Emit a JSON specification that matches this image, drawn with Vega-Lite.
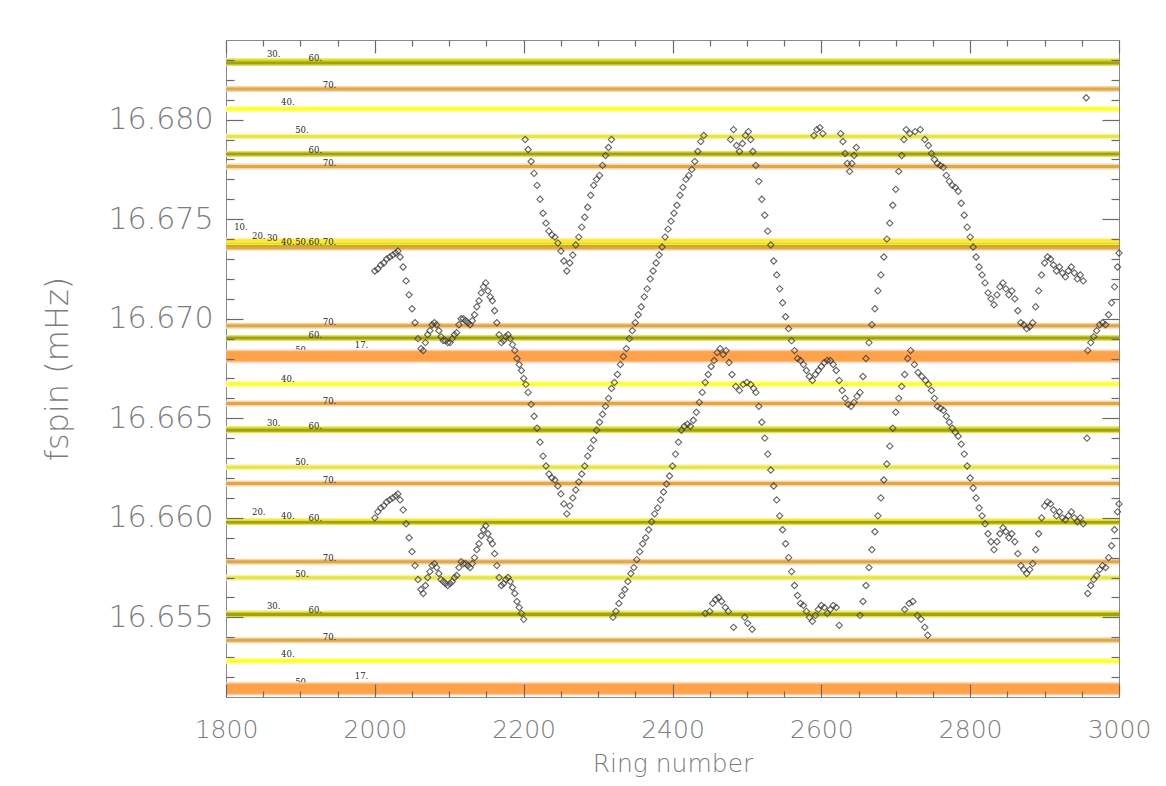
{
  "$schema": "https://vega.github.io/schema/vega-lite/v6.json",
  "width": 893,
  "height": 657,
  "autosize": {"type": "none"},
  "padding": {"left": 226, "top": 40, "right": 47, "bottom": 89},
  "background": "white",
  "config": {
    "view": {"stroke": "#8a8a8a", "strokeWidth": 1},
    "axis": {"grid": false}
  },
  "datasets": {
    "lines": [
      {"n": "30", "f": 16.68295}, {"n": "60", "f": 16.68285}, {"n": "70", "f": 16.68154},
      {"n": "40", "f": 16.68054}, {"n": "50", "f": 16.67915}, {"n": "60", "f": 16.67827},
      {"n": "70", "f": 16.67764}, {"n": "10", "f": 16.67392}, {"n": "20", "f": 16.67381},
      {"n": "30", "f": 16.67371}, {"n": "40", "f": 16.67366}, {"n": "50", "f": 16.67361},
      {"n": "60", "f": 16.67361}, {"n": "70", "f": 16.67356}, {"n": "70", "f": 16.66965},
      {"n": "60", "f": 16.66903}, {"n": "50", "f": 16.66815}, {"n": "17", "f": 16.66811},
      {"n": "40", "f": 16.66672}, {"n": "70", "f": 16.66574}, {"n": "30", "f": 16.66446},
      {"n": "60", "f": 16.6644}, {"n": "50", "f": 16.66254}, {"n": "70", "f": 16.66172},
      {"n": "20", "f": 16.65984}, {"n": "40", "f": 16.65979}, {"n": "60", "f": 16.65978},
      {"n": "70", "f": 16.65779}, {"n": "50", "f": 16.65699}, {"n": "30", "f": 16.6552},
      {"n": "60", "f": 16.65515}, {"n": "70", "f": 16.65385}, {"n": "40", "f": 16.65281},
      {"n": "50", "f": 16.65145}, {"n": "17", "f": 16.65142}
    ],
    "labels": [
      {"t": "30.", "r": 1855, "f": 16.68332}, {"t": "60.", "r": 1911, "f": 16.6831},
      {"t": "70.", "r": 1930, "f": 16.68174}, {"t": "40.", "r": 1874, "f": 16.6809},
      {"t": "50.", "r": 1893, "f": 16.67948}, {"t": "60.", "r": 1911, "f": 16.67848},
      {"t": "70.", "r": 1930, "f": 16.67781}, {"t": "10.", "r": 1811, "f": 16.67463},
      {"t": "20.", "r": 1835, "f": 16.67416}, {"t": "30", "r": 1855, "f": 16.67405},
      {"t": "40.", "r": 1874, "f": 16.67386}, {"t": "50.", "r": 1893, "f": 16.67386},
      {"t": "60.", "r": 1911, "f": 16.67386}, {"t": "70.", "r": 1930, "f": 16.67386},
      {"t": "70.", "r": 1930, "f": 16.66983}, {"t": "60.", "r": 1911, "f": 16.66916},
      {"t": "17.", "r": 1973, "f": 16.6687}, {"t": "50.", "r": 1893, "f": 16.66844},
      {"t": "40.", "r": 1874, "f": 16.66697}, {"t": "70.", "r": 1930, "f": 16.66589},
      {"t": "30.", "r": 1855, "f": 16.66477}, {"t": "60.", "r": 1911, "f": 16.6646},
      {"t": "50.", "r": 1893, "f": 16.66279}, {"t": "70.", "r": 1930, "f": 16.66192},
      {"t": "20.", "r": 1835, "f": 16.66028}, {"t": "40.", "r": 1874, "f": 16.66008},
      {"t": "60.", "r": 1911, "f": 16.66}, {"t": "70.", "r": 1930, "f": 16.65799},
      {"t": "50.", "r": 1893, "f": 16.6572}, {"t": "30.", "r": 1855, "f": 16.65556},
      {"t": "60.", "r": 1911, "f": 16.65536}, {"t": "70.", "r": 1930, "f": 16.65403},
      {"t": "40.", "r": 1874, "f": 16.65318}, {"t": "17.", "r": 1973, "f": 16.65206},
      {"t": "50.", "r": 1893, "f": 16.65175}
    ],
    "pts": [
      {"r":2000,"f":16.6724},{"r":2004,"f":16.6725},{"r":2008,"f":16.6727},{"r":2012,"f":16.6728},{"r":2016,"f":16.673},{"r":2020,"f":16.6731},{"r":2024,"f":16.6732},{"r":2028,"f":16.6733},{"r":2031,"f":16.6734},{"r":2034,"f":16.6731},{"r":2038,"f":16.6726},{"r":2042,"f":16.6719},{"r":2046,"f":16.6712},{"r":2050,"f":16.6705},{"r":2054,"f":16.6698},{"r":2058,"f":16.669},{"r":2062,"f":16.6685},{"r":2065,"f":16.6684},{"r":2068,"f":16.6688},{"r":2071,"f":16.6692},{"r":2074,"f":16.6694},{"r":2077,"f":16.6697},{"r":2080,"f":16.6698},{"r":2083,"f":16.6697},{"r":2086,"f":16.6694},{"r":2089,"f":16.6691},{"r":2092,"f":16.6689},{"r":2095,"f":16.6689},{"r":2098,"f":16.6688},{"r":2101,"f":16.6688},{"r":2104,"f":16.669},{"r":2107,"f":16.6692},{"r":2110,"f":16.6693},{"r":2113,"f":16.6697},{"r":2116,"f":16.67},{"r":2119,"f":16.67},{"r":2122,"f":16.6699},{"r":2125,"f":16.6698},{"r":2128,"f":16.6697},{"r":2131,"f":16.6699},{"r":2134,"f":16.6702},{"r":2137,"f":16.6706},{"r":2140,"f":16.6709},{"r":2143,"f":16.6713},{"r":2146,"f":16.6716},{"r":2149,"f":16.6718},{"r":2152,"f":16.6714},{"r":2155,"f":16.6711},{"r":2158,"f":16.6709},{"r":2161,"f":16.6704},{"r":2164,"f":16.6698},{"r":2167,"f":16.6692},{"r":2170,"f":16.6688},{"r":2173,"f":16.6689},{"r":2176,"f":16.6691},{"r":2179,"f":16.6692},{"r":2182,"f":16.669},{"r":2185,"f":16.6687},{"r":2188,"f":16.6684},{"r":2191,"f":16.668},{"r":2194,"f":16.6677},{"r":2197,"f":16.6674},
      {"r":2000,"f":16.66},{"r":2004,"f":16.6603},{"r":2008,"f":16.6605},{"r":2012,"f":16.6606},{"r":2016,"f":16.6608},{"r":2020,"f":16.6609},{"r":2024,"f":16.661},{"r":2028,"f":16.6611},{"r":2031,"f":16.6612},{"r":2034,"f":16.6609},{"r":2038,"f":16.6604},{"r":2042,"f":16.6597},{"r":2046,"f":16.659},{"r":2050,"f":16.6583},{"r":2054,"f":16.6576},{"r":2058,"f":16.6569},{"r":2062,"f":16.6564},{"r":2065,"f":16.6562},{"r":2068,"f":16.6566},{"r":2071,"f":16.657},{"r":2074,"f":16.6573},{"r":2077,"f":16.6576},{"r":2080,"f":16.6577},{"r":2083,"f":16.6575},{"r":2086,"f":16.6572},{"r":2089,"f":16.6569},{"r":2092,"f":16.6568},{"r":2095,"f":16.6567},{"r":2098,"f":16.6566},{"r":2101,"f":16.6567},{"r":2104,"f":16.6568},{"r":2107,"f":16.657},{"r":2110,"f":16.6571},{"r":2113,"f":16.6575},{"r":2116,"f":16.6578},{"r":2119,"f":16.6577},{"r":2122,"f":16.6577},{"r":2125,"f":16.6576},{"r":2128,"f":16.6575},{"r":2131,"f":16.6577},{"r":2134,"f":16.658},{"r":2137,"f":16.6584},{"r":2140,"f":16.6587},{"r":2143,"f":16.6591},{"r":2146,"f":16.6594},{"r":2149,"f":16.6596},{"r":2152,"f":16.6592},{"r":2155,"f":16.6589},{"r":2158,"f":16.6587},{"r":2161,"f":16.6582},{"r":2164,"f":16.6576},{"r":2167,"f":16.657},{"r":2170,"f":16.6566},{"r":2173,"f":16.6567},{"r":2176,"f":16.6569},{"r":2179,"f":16.657},{"r":2182,"f":16.6568},{"r":2185,"f":16.6565},{"r":2188,"f":16.6562},{"r":2191,"f":16.6558},{"r":2194,"f":16.6555},{"r":2197,"f":16.6552},{"r":2200,"f":16.6549},
      {"r":2200,"f":16.667},{"r":2203,"f":16.6667},{"r":2206,"f":16.6663},{"r":2210,"f":16.6657},{"r":2214,"f":16.6651},{"r":2218,"f":16.6645},{"r":2222,"f":16.6638},{"r":2226,"f":16.6631},{"r":2230,"f":16.6626},{"r":2234,"f":16.6622},{"r":2238,"f":16.662},{"r":2242,"f":16.6619},{"r":2246,"f":16.6616},{"r":2250,"f":16.6612},{"r":2254,"f":16.6607},{"r":2258,"f":16.6602},
      {"r":2262,"f":16.6606},{"r":2266,"f":16.661},{"r":2270,"f":16.6614},{"r":2274,"f":16.6618},{"r":2278,"f":16.6622},{"r":2282,"f":16.6626},{"r":2286,"f":16.6631},{"r":2290,"f":16.6635},{"r":2294,"f":16.6639},{"r":2298,"f":16.6644},{"r":2302,"f":16.6648},{"r":2306,"f":16.6652},{"r":2310,"f":16.6656},{"r":2314,"f":16.666},{"r":2318,"f":16.6665},{"r":2322,"f":16.6668},{"r":2326,"f":16.6672},{"r":2330,"f":16.6677},{"r":2334,"f":16.6681},{"r":2338,"f":16.6685},{"r":2342,"f":16.669},{"r":2346,"f":16.6694},{"r":2350,"f":16.6698},{"r":2354,"f":16.6702},{"r":2358,"f":16.6706},{"r":2362,"f":16.6711},{"r":2366,"f":16.6715},{"r":2370,"f":16.672},{"r":2374,"f":16.6724},{"r":2378,"f":16.6728},{"r":2382,"f":16.6732},{"r":2386,"f":16.6736},{"r":2390,"f":16.6741},{"r":2394,"f":16.6745},{"r":2398,"f":16.6749},{"r":2402,"f":16.6753},{"r":2406,"f":16.6757},{"r":2410,"f":16.6762},{"r":2414,"f":16.6766},{"r":2418,"f":16.677},{"r":2422,"f":16.6772},{"r":2426,"f":16.6775},{"r":2430,"f":16.6779},{"r":2434,"f":16.6784},{"r":2438,"f":16.6789},{"r":2442,"f":16.6792},
      {"r":2202,"f":16.679},{"r":2206,"f":16.6785},{"r":2210,"f":16.6779},{"r":2214,"f":16.6773},{"r":2218,"f":16.6767},{"r":2222,"f":16.676},{"r":2226,"f":16.6753},{"r":2230,"f":16.6748},{"r":2234,"f":16.6744},{"r":2238,"f":16.6742},{"r":2242,"f":16.6741},{"r":2246,"f":16.6738},{"r":2250,"f":16.6734},{"r":2254,"f":16.6729},{"r":2258,"f":16.6724},{"r":2262,"f":16.6728},{"r":2266,"f":16.6732},{"r":2270,"f":16.6737},{"r":2274,"f":16.6741},{"r":2278,"f":16.6746},{"r":2282,"f":16.6751},{"r":2286,"f":16.6756},{"r":2290,"f":16.6762},{"r":2294,"f":16.6767},{"r":2298,"f":16.677},{"r":2302,"f":16.6772},{"r":2306,"f":16.6777},{"r":2310,"f":16.6782},{"r":2314,"f":16.6786},{"r":2318,"f":16.679},
      {"r":2320,"f":16.655},{"r":2324,"f":16.6553},{"r":2328,"f":16.6557},{"r":2332,"f":16.6561},{"r":2336,"f":16.6564},{"r":2340,"f":16.6568},{"r":2344,"f":16.6572},{"r":2348,"f":16.6575},{"r":2352,"f":16.6579},{"r":2356,"f":16.6583},{"r":2360,"f":16.6587},{"r":2364,"f":16.659},{"r":2368,"f":16.6594},{"r":2372,"f":16.6598},{"r":2376,"f":16.6602},{"r":2380,"f":16.6605},{"r":2384,"f":16.6609},{"r":2388,"f":16.6613},{"r":2392,"f":16.6617},{"r":2396,"f":16.6621},{"r":2400,"f":16.6626},{"r":2404,"f":16.6632},{"r":2408,"f":16.6638},{"r":2412,"f":16.6644},{"r":2416,"f":16.6646},{"r":2420,"f":16.6647},{"r":2424,"f":16.6646},{"r":2428,"f":16.6649},{"r":2432,"f":16.6653},{"r":2436,"f":16.6658},{"r":2440,"f":16.6663},{"r":2444,"f":16.6668},{"r":2448,"f":16.6672},{"r":2452,"f":16.6676},
      {"r":2456,"f":16.6679},{"r":2460,"f":16.6683},{"r":2464,"f":16.6685},{"r":2468,"f":16.6682},{"r":2472,"f":16.6684},{"r":2476,"f":16.6678},{"r":2480,"f":16.6672},{"r":2485,"f":16.6666},{"r":2490,"f":16.6664},{"r":2495,"f":16.6667},{"r":2500,"f":16.6668},{"r":2505,"f":16.6667},{"r":2509,"f":16.6665},
      {"r":2478,"f":16.679},{"r":2482,"f":16.6795},{"r":2486,"f":16.6787},{"r":2490,"f":16.6784},{"r":2494,"f":16.6788},{"r":2498,"f":16.6792},{"r":2502,"f":16.6794},{"r":2505,"f":16.679},
      {"r":2444,"f":16.6552},{"r":2450,"f":16.6553},{"r":2454,"f":16.6557},{"r":2458,"f":16.6559},{"r":2462,"f":16.656},{"r":2466,"f":16.6558},{"r":2471,"f":16.6555},{"r":2475,"f":16.6553},{"r":2482,"f":16.6545},{"r":2497,"f":16.655},{"r":2501,"f":16.6547},{"r":2507,"f":16.6544},
      {"r":2508,"f":16.6784},{"r":2512,"f":16.6777},{"r":2516,"f":16.6769},{"r":2520,"f":16.676},{"r":2524,"f":16.6752},{"r":2528,"f":16.6744},{"r":2532,"f":16.6737},{"r":2536,"f":16.6729},{"r":2540,"f":16.6722},{"r":2544,"f":16.6715},{"r":2548,"f":16.6708},{"r":2552,"f":16.6701},{"r":2556,"f":16.6695},{"r":2560,"f":16.6689},{"r":2564,"f":16.6684},{"r":2568,"f":16.668},
      {"r":2512,"f":16.6663},{"r":2516,"f":16.6656},{"r":2520,"f":16.6648},{"r":2524,"f":16.664},{"r":2528,"f":16.6632},{"r":2532,"f":16.6624},{"r":2536,"f":16.6616},{"r":2540,"f":16.6609},{"r":2544,"f":16.6601},{"r":2548,"f":16.6594},{"r":2552,"f":16.6587},{"r":2556,"f":16.658},{"r":2560,"f":16.6573},{"r":2564,"f":16.6566},{"r":2568,"f":16.6561},
      {"r":2572,"f":16.6679},{"r":2576,"f":16.6677},{"r":2580,"f":16.6674},{"r":2584,"f":16.6671},{"r":2588,"f":16.6669},{"r":2592,"f":16.6672},{"r":2596,"f":16.6674},{"r":2600,"f":16.6676},{"r":2604,"f":16.6678},{"r":2608,"f":16.6679},{"r":2612,"f":16.6679},{"r":2616,"f":16.6677},{"r":2620,"f":16.6674},{"r":2624,"f":16.6669},{"r":2628,"f":16.6664},{"r":2632,"f":16.666},{"r":2636,"f":16.6657},{"r":2640,"f":16.6656},{"r":2644,"f":16.6658},{"r":2648,"f":16.6661},
      {"r":2572,"f":16.6557},{"r":2576,"f":16.6556},{"r":2580,"f":16.6553},{"r":2584,"f":16.655},{"r":2588,"f":16.6548},{"r":2592,"f":16.6551},{"r":2596,"f":16.6554},{"r":2600,"f":16.6556},{"r":2604,"f":16.6555},{"r":2608,"f":16.6552},{"r":2612,"f":16.6554},{"r":2616,"f":16.6556},{"r":2620,"f":16.6555},{"r":2624,"f":16.6546},
      {"r":2590,"f":16.6792},{"r":2594,"f":16.6795},{"r":2598,"f":16.6796},{"r":2602,"f":16.6793},{"r":2626,"f":16.6793},{"r":2629,"f":16.6789},{"r":2632,"f":16.6783},{"r":2635,"f":16.6778},{"r":2638,"f":16.6774},{"r":2641,"f":16.6778},{"r":2644,"f":16.6782},{"r":2647,"f":16.6786},
      {"r":2652,"f":16.6663},{"r":2656,"f":16.6671},{"r":2660,"f":16.668},{"r":2664,"f":16.6688},{"r":2668,"f":16.6697},{"r":2672,"f":16.6705},{"r":2676,"f":16.6714},{"r":2680,"f":16.6722},{"r":2684,"f":16.6731},{"r":2688,"f":16.674},{"r":2692,"f":16.6748},{"r":2696,"f":16.6757},{"r":2700,"f":16.6765},{"r":2704,"f":16.6774},{"r":2708,"f":16.6782},{"r":2711,"f":16.679},
      {"r":2652,"f":16.6551},{"r":2656,"f":16.6558},{"r":2660,"f":16.6566},{"r":2664,"f":16.6575},{"r":2668,"f":16.6584},{"r":2672,"f":16.6593},{"r":2676,"f":16.6601},{"r":2680,"f":16.661},{"r":2684,"f":16.6619},{"r":2688,"f":16.6627},{"r":2692,"f":16.6636},{"r":2696,"f":16.6645},{"r":2700,"f":16.6653},{"r":2704,"f":16.666},{"r":2708,"f":16.6666},{"r":2712,"f":16.6672},
      {"r":2714,"f":16.6795},{"r":2719,"f":16.6793},{"r":2726,"f":16.6794},{"r":2733,"f":16.6795},{"r":2739,"f":16.679},
      {"r":2716,"f":16.668},{"r":2720,"f":16.6684},{"r":2725,"f":16.6677},{"r":2730,"f":16.6673},{"r":2735,"f":16.6671},{"r":2740,"f":16.6669},
      {"r":2712,"f":16.6554},{"r":2718,"f":16.6557},{"r":2723,"f":16.6558},{"r":2729,"f":16.6551},{"r":2734,"f":16.6549},{"r":2739,"f":16.6545},{"r":2743,"f":16.6541},
      {"r":2744,"f":16.6787},{"r":2748,"f":16.6783},{"r":2752,"f":16.678},{"r":2756,"f":16.6778},{"r":2760,"f":16.6777},{"r":2764,"f":16.6776},{"r":2768,"f":16.6772},{"r":2772,"f":16.6769},{"r":2776,"f":16.6767},{"r":2780,"f":16.6766},{"r":2784,"f":16.6764},{"r":2788,"f":16.6758},{"r":2792,"f":16.6752},{"r":2796,"f":16.6746},{"r":2800,"f":16.6741},{"r":2804,"f":16.6736},{"r":2808,"f":16.6731},{"r":2812,"f":16.6726},{"r":2816,"f":16.6722},{"r":2820,"f":16.6718},{"r":2824,"f":16.6713},{"r":2828,"f":16.671},{"r":2832,"f":16.6707},{"r":2836,"f":16.6712},{"r":2840,"f":16.6716},{"r":2844,"f":16.6718},{"r":2848,"f":16.6715},{"r":2852,"f":16.6712},{"r":2856,"f":16.6714},{"r":2860,"f":16.671},{"r":2864,"f":16.6704},{"r":2868,"f":16.6698},{"r":2872,"f":16.6697},{"r":2876,"f":16.6695},{"r":2880,"f":16.6696},{"r":2884,"f":16.6698},{"r":2888,"f":16.6706},{"r":2892,"f":16.6714},{"r":2896,"f":16.6722},{"r":2900,"f":16.6728},{"r":2904,"f":16.6731},{"r":2908,"f":16.673},{"r":2912,"f":16.6727},{"r":2916,"f":16.6724},{"r":2920,"f":16.6726},{"r":2924,"f":16.6723},{"r":2928,"f":16.6721},{"r":2932,"f":16.6724},{"r":2936,"f":16.6726},{"r":2940,"f":16.6723},{"r":2944,"f":16.672},{"r":2948,"f":16.6722},{"r":2952,"f":16.6719},
      {"r":2958,"f":16.6684},{"r":2962,"f":16.6688},{"r":2966,"f":16.6691},{"r":2970,"f":16.6694},{"r":2974,"f":16.6697},{"r":2978,"f":16.6698},{"r":2982,"f":16.6697},{"r":2986,"f":16.6702},{"r":2990,"f":16.6708},{"r":2994,"f":16.6716},{"r":2998,"f":16.6726},{"r":3000,"f":16.6733},
      {"r":2744,"f":16.6667},{"r":2748,"f":16.6664},{"r":2752,"f":16.666},{"r":2756,"f":16.6656},{"r":2760,"f":16.6655},{"r":2764,"f":16.6654},{"r":2768,"f":16.6651},{"r":2772,"f":16.6648},{"r":2776,"f":16.6645},{"r":2780,"f":16.6643},{"r":2784,"f":16.6641},{"r":2788,"f":16.6637},{"r":2792,"f":16.6632},{"r":2796,"f":16.6626},{"r":2800,"f":16.662},{"r":2804,"f":16.6615},{"r":2808,"f":16.661},{"r":2812,"f":16.6605},{"r":2816,"f":16.6601},{"r":2820,"f":16.6597},{"r":2824,"f":16.6592},{"r":2828,"f":16.6588},{"r":2832,"f":16.6584},{"r":2836,"f":16.6588},{"r":2840,"f":16.6592},{"r":2844,"f":16.6595},{"r":2848,"f":16.6593},{"r":2852,"f":16.659},{"r":2856,"f":16.6592},{"r":2860,"f":16.6588},{"r":2864,"f":16.6582},{"r":2868,"f":16.6576},{"r":2872,"f":16.6574},{"r":2876,"f":16.6572},{"r":2880,"f":16.6574},{"r":2884,"f":16.6577},{"r":2888,"f":16.6584},{"r":2892,"f":16.6592},{"r":2896,"f":16.66},{"r":2900,"f":16.6606},{"r":2904,"f":16.6608},{"r":2908,"f":16.6607},{"r":2912,"f":16.6604},{"r":2916,"f":16.6601},{"r":2920,"f":16.6603},{"r":2924,"f":16.66},{"r":2928,"f":16.6599},{"r":2932,"f":16.6601},{"r":2936,"f":16.6603},{"r":2940,"f":16.66},{"r":2944,"f":16.6598},{"r":2948,"f":16.66},{"r":2952,"f":16.6597},
      {"r":2958,"f":16.6562},{"r":2962,"f":16.6566},{"r":2966,"f":16.6569},{"r":2970,"f":16.6571},{"r":2974,"f":16.6574},{"r":2978,"f":16.6576},{"r":2982,"f":16.6575},{"r":2986,"f":16.658},{"r":2990,"f":16.6586},{"r":2994,"f":16.6594},{"r":2998,"f":16.6603},{"r":3000,"f":16.6607},
      {"r":2956,"f":16.6811},{"r":2957,"f":16.664}
    ]
  },
  "layer": [
    {
      "data": {"name": "lines"},
      "transform": [{"filter": "datum.n !== '17'"}],
      "mark": {"type": "rule"},
      "encoding": {
        "x": {"datum": 1800, "type": "quantitative", "scale": {"domain": [1800, 3000], "nice": false, "zero": false},
          "axis": {"orient": "bottom", "values": [1800, 2000, 2200, 2400, 2600, 2800, 3000], "labels": false, "domain": false, "title": null,
            "tickColor": "#6a6a6a", "tickWidth": 1.2, "tickSize": 13, "offset": -13, "zindex": 1}},
        "x2": {"datum": 3000},
        "y": {"field": "f", "type": "quantitative", "scale": {"domain": [16.651, 16.684], "nice": false, "zero": false},
          "axis": {"orient": "left", "values": [16.655, 16.66, 16.665, 16.67, 16.675, 16.68], "labels": false, "domain": false, "title": null,
            "tickColor": "#6a6a6a", "tickWidth": 1.2, "tickSize": 17, "offset": -17, "zindex": 1}},
        "color": {"field": "n", "type": "nominal", "legend": null,
          "scale": {"domain": ["10", "20", "30", "40", "50", "60", "70"], "range": ["#fff4a8", "#fff28a", "#eeee78", "#ffff96", "#f5f3b0", "#e2e25a", "#f5d8a2"]}},
        "size": {"field": "n", "type": "ordinal", "legend": null,
          "scale": {"domain": ["10", "20", "30", "40", "50", "60", "70"], "range": [6, 6, 5, 7, 4, 5, 4]}}
      }
    },
    {
      "data": {"name": "lines"},
      "transform": [{"filter": "datum.n !== '17'"}],
      "mark": {"type": "rule"},
      "encoding": {
        "x": {"datum": 1800, "type": "quantitative", "scale": {"domain": [1800, 3000], "nice": false, "zero": false},
          "axis": {"orient": "bottom", "values": [1850,1900,1950,2050,2100,2150,2250,2300,2350,2450,2500,2550,2650,2700,2750,2850,2900,2950],
            "labels": false, "domain": false, "title": null, "tickColor": "#6a6a6a", "tickWidth": 1.2, "tickSize": 6, "offset": -6, "zindex": 1}},
        "x2": {"datum": 3000},
        "y": {"field": "f", "type": "quantitative", "scale": {"domain": [16.651, 16.684], "nice": false, "zero": false},
          "axis": {"orient": "left", "values": [16.652,16.653,16.654,16.656,16.657,16.658,16.659,16.661,16.662,16.663,16.664,16.666,16.667,16.668,16.669,16.671,16.672,16.673,16.674,16.676,16.677,16.678,16.679,16.681,16.682,16.683],
            "labels": false, "domain": false, "title": null, "tickColor": "#6a6a6a", "tickWidth": 1.2, "tickSize": 8, "offset": -8, "zindex": 1}},
        "color": {"field": "n", "type": "nominal", "legend": null,
          "scale": {"domain": ["10", "20", "30", "40", "50", "60", "70"], "range": ["#ffe640", "#ffe83a", "#d2d222", "#ffff2c", "#e8e440", "#a2a20a", "#dfa64c"]}},
        "size": {"field": "n", "type": "ordinal", "legend": null,
          "scale": {"domain": ["10", "20", "30", "40", "50", "60", "70"], "range": [3, 3, 2, 4, 2, 2, 1.5]}}
      }
    },
    {
      "data": {"name": "labels"},
      "mark": {"type": "text", "align": "left", "baseline": "middle", "font": "DejaVu Serif", "fontSize": 8.5, "color": "#2a2a2a"},
      "encoding": {
        "x": {"field": "r", "type": "quantitative", "scale": {"domain": [1800, 3000], "nice": false, "zero": false},
          "axis": {"orient": "top", "values": [1800, 2000, 2200, 2400, 2600, 2800, 3000], "labels": false, "domain": false, "title": null,
            "tickColor": "#6a6a6a", "tickWidth": 1.2, "tickSize": 13, "offset": -13, "zindex": 1}},
        "y": {"field": "f", "type": "quantitative", "scale": {"domain": [16.651, 16.684], "nice": false, "zero": false},
          "axis": {"orient": "right", "values": [16.655, 16.66, 16.665, 16.67, 16.675, 16.68], "labels": false, "domain": false, "title": null,
            "tickColor": "#6a6a6a", "tickWidth": 1.2, "tickSize": 17, "offset": -17, "zindex": 1}},
        "text": {"field": "t"}
      }
    },
    {
      "data": {"name": "lines"},
      "transform": [{"filter": "datum.n === '17'"}],
      "mark": {"type": "rule", "color": "#ffc896", "strokeWidth": 13},
      "encoding": {
        "x": {"datum": 1800, "type": "quantitative", "scale": {"domain": [1800, 3000], "nice": false, "zero": false},
          "axis": {"orient": "top", "values": [1850,1900,1950,2050,2100,2150,2250,2300,2350,2450,2500,2550,2650,2700,2750,2850,2900,2950],
            "labels": false, "domain": false, "title": null, "tickColor": "#6a6a6a", "tickWidth": 1.2, "tickSize": 6, "offset": -6, "zindex": 1}},
        "x2": {"datum": 3000},
        "y": {"field": "f", "type": "quantitative", "scale": {"domain": [16.651, 16.684], "nice": false, "zero": false},
          "axis": {"orient": "right", "values": [16.652,16.653,16.654,16.656,16.657,16.658,16.659,16.661,16.662,16.663,16.664,16.666,16.667,16.668,16.669,16.671,16.672,16.673,16.674,16.676,16.677,16.678,16.679,16.681,16.682,16.683],
            "labels": false, "domain": false, "title": null, "tickColor": "#6a6a6a", "tickWidth": 1.2, "tickSize": 8, "offset": -8, "zindex": 1}}
      }
    },
    {
      "data": {"name": "lines"},
      "transform": [{"filter": "datum.n === '17'"}],
      "mark": {"type": "rule", "color": "#ffa24a", "strokeWidth": 10},
      "encoding": {
        "y": {"field": "f", "type": "quantitative", "scale": {"domain": [16.651, 16.684], "nice": false, "zero": false}, "axis": null}
      }
    },
    {
      "data": {"name": "pts"},
      "mark": {"type": "point", "shape": "diamond", "filled": false, "size": 40, "stroke": "#3a3a3a", "strokeWidth": 1.1, "opacity": 0.78},
      "encoding": {
        "x": {"field": "r", "type": "quantitative", "scale": {"domain": [1800, 3000], "nice": false, "zero": false},
          "axis": {"orient": "bottom", "values": [1800, 2000, 2200, 2400, 2600, 2800, 3000], "format": "d", "ticks": false, "domain": false,
            "labelFont": "DejaVu Sans", "labelFontWeight": 200, "labelFontSize": 25, "labelColor": "#7d7d7d", "labelPadding": 20,
            "labelFlush": false, "labelOverlap": false,
            "title": "Ring number", "titleFont": "DejaVu Sans", "titleFontWeight": 200, "titleFontSize": 25, "titleColor": "#7d7d7d", "titlePadding": 9}},
        "y": {"field": "f", "type": "quantitative", "scale": {"domain": [16.651, 16.684], "nice": false, "zero": false},
          "axis": {"orient": "left", "values": [16.655, 16.66, 16.665, 16.67, 16.675, 16.68], "format": ".3f", "ticks": false, "domain": false,
            "labelFont": "DejaVu Sans", "labelFontWeight": 200, "labelFontSize": 30, "labelColor": "#7d7d7d", "labelPadding": 13,
            "labelOverlap": false,
            "title": "fspin (mHz)", "titleFont": "DejaVu Sans", "titleFontWeight": 200, "titleFontSize": 32, "titleColor": "#7d7d7d", "titlePadding": 34}}
      }
    }
  ],
  "resolve": {
    "scale": {"color": "independent", "size": "independent"},
    "axis": {"x": "independent", "y": "independent"}
  }
}
